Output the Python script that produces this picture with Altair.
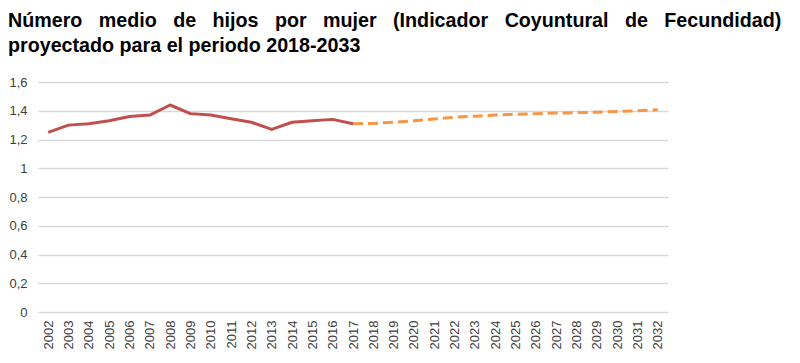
import altair as alt
import pandas as pd

hist_years = list(range(2002, 2018))
hist_values = [1.25, 1.30, 1.31, 1.33, 1.36, 1.37, 1.44, 1.38, 1.37, 1.345, 1.32, 1.27, 1.32, 1.33, 1.34, 1.31]

proj_years = list(range(2017, 2033))
proj_values = [1.31, 1.312, 1.32, 1.33, 1.343, 1.355, 1.362, 1.37, 1.375, 1.38, 1.384, 1.387, 1.39, 1.395, 1.40, 1.407]

y_ticks = [0, 0.2, 0.4, 0.6, 0.8, 1.0, 1.2, 1.4, 1.6]

gap = "\u00a0\u00a0\u00a0"
title_line1 = gap.join(["Número", "medio", "de", "hijos", "por", "mujer", "(Indicador", "Coyuntural", "de", "Fecundidad)"])
title_line2 = "proyectado para el periodo 2018-2033"

df = pd.DataFrame(
    [{"year": str(y), "value": v, "series": "Histórico"} for y, v in zip(hist_years, hist_values)]
    + [{"year": str(y), "value": v, "series": "Proyección"} for y, v in zip(proj_years, proj_values)]
)

all_years = [str(y) for y in range(2002, 2033)]

x = alt.X("year:O", sort=all_years, scale=alt.Scale(type="point", padding=0.5, domain=all_years),
          axis=alt.Axis(title=None, labelAngle=-90, labelFontSize=13, labelColor="#404040",
                        labelFont="Liberation Sans", ticks=False, domain=False, grid=False,
                        labelPadding=8))
y = alt.Y("value:Q", scale=alt.Scale(domain=[0, 1.6], nice=False, zero=True),
          axis=alt.Axis(title=None, values=y_ticks, labelFontSize=13, labelColor="#404040",
                        labelFont="Liberation Sans",
                        labelExpr="replace(format(datum.value, '.1~f'), '.', ',')",
                        ticks=False, domain=False, grid=True, gridColor="#d9d9d9", gridWidth=1.5,
                        labelPadding=11))

base = alt.Chart(df)
hist = base.transform_filter(alt.datum.series == "Histórico").mark_line(
    color="#c0504d", strokeWidth=3, strokeJoin="round").encode(x=x, y=y)
proj = base.transform_filter(alt.datum.series == "Proyección").mark_line(
    color="#f79646", strokeWidth=3, strokeDash=[10, 5]).encode(x=x, y=y)

chart = alt.layer(hist, proj).properties(
    width=630, height=230,
    autosize=alt.AutoSizeParams(type="none"),
    padding={"left": 30, "top": 74, "right": 124, "bottom": 42},
    title=alt.TitleParams(text=[title_line1, title_line2], anchor="start", frame="group",
                          font="Liberation Sans", fontSize=19.7, fontWeight="bold", color="#000000",
                          dx=-30, offset=20, lineHeight=25),
).configure_view(stroke=None)

chart.save("out.html", embed_options={"renderer": "svg", "actions": False})
